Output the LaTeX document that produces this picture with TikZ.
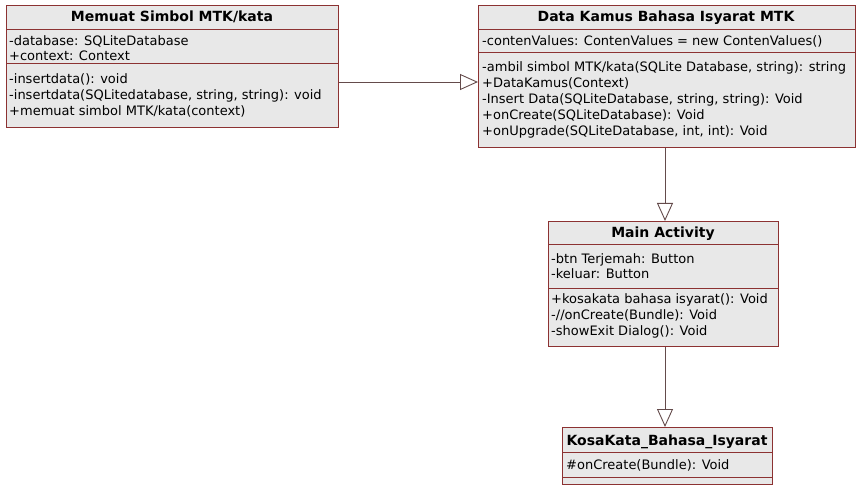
\documentclass[tikz,border=0pt]{standalone}
\usepackage{fontspec}
\setmainfont{DejaVu Sans}
\usetikzlibrary{arrows.meta}
\definecolor{boxfill}{RGB}{232,232,232}
\definecolor{boxline}{RGB}{140,50,50}
\definecolor{conn}{RGB}{100,75,75}
\tikzset{
  cls/.style={draw=boxline, fill=boxfill, line width=0.9pt, anchor=north west, inner sep=0pt},
  sep/.style={draw=boxline, line width=0.9pt},
  ttl/.style={font=\fontsize{14}{16}\selectfont\bfseries, inner sep=0pt, anchor=base},
  txt/.style={font=\fontsize{13}{16}\selectfont, anchor=base west, inner sep=0pt},
  gen/.style={draw=conn, line width=0.9pt, -{Triangle[open, length=18pt, width=16pt, fill=white]}}
}
\begin{document}
\begin{tikzpicture}[x=1pt,y=-1pt]
\useasboundingbox (0,0) rectangle (857,489);
% Class 1
\node[cls, minimum width=332pt, minimum height=122pt] (c1) at (6,5) {};
\draw[sep] (6,29) -- (338,29);
\draw[sep] (6,63) -- (338,63);
\node[ttl] (c1t) at (172,22) {Memuat Simbol MTK/kata};
\node[txt] (c1a1) at (9,46) {-database: SQLiteDatabase};
\node[txt] (c1a2) at (9,61) {+context: Context};
\node[txt] (c1m1) at (9,84) {-insertdata(): void};
\node[txt] (c1m2) at (9,100) {-insertdata(SQLitedatabase, string, string): void};
\node[txt] (c1m3) at (9,116) {+memuat simbol MTK/kata(context)};
% Class 2
\node[cls, minimum width=377pt, minimum height=142pt] (c2) at (478,5) {};
\draw[sep] (478,29) -- (855,29);
\draw[sep] (478,52) -- (855,52);
\node[ttl] (c2t) at (666,22) {Data Kamus Bahasa Isyarat MTK};
\node[txt] (c2a1) at (482,45.5) {-contenValues: ContenValues = new ContenValues()};
\node[txt] (c2m1) at (482,72) {-ambil simbol MTK/kata(SQLite Database, string): string};
\node[txt] (c2m2) at (482,88) {+DataKamus(Context)};
\node[txt] (c2m3) at (482,104) {-Insert Data(SQLiteDatabase, string, string): Void};
\node[txt] (c2m4) at (482,120) {+onCreate(SQLiteDatabase): Void};
\node[txt] (c2m5) at (482,136) {+onUpgrade(SQLiteDatabase, int, int): Void};
% Class 3
\node[cls, minimum width=230pt, minimum height=125pt] (c3) at (548,221) {};
\draw[sep] (548,244) -- (778,244);
\draw[sep] (548,288) -- (778,288);
\node[ttl] (c3t) at (663,237.5) {Main Activity};
\node[txt] (c3a1) at (551,263) {-btn Terjemah: Button};
\node[txt] (c3a2) at (551,278.5) {-keluar: Button};
\node[txt] (c3m1) at (551,303) {+kosakata bahasa isyarat(): Void};
\node[txt] (c3m2) at (551,319) {-//onCreate(Bundle): Void};
\node[txt] (c3m3) at (551,335) {-showExit Dialog(): Void};
% Class 4
\node[cls, minimum width=210pt, minimum height=57pt] (c4) at (562,427) {};
\draw[sep] (562,452) -- (772,452);
\draw[sep] (562,477) -- (772,477);
\node[ttl] (c4t) at (667,445) {KosaKata\_Bahasa\_Isyarat};
\node[txt] (c4a1) at (566,469.5) {\#onCreate(Bundle): Void};
% Connectors
\draw[gen] (c1.east |- 0,82) -- (c2.west |- 0,82);
\draw[gen] (c2.south -| 665,0) -- (c3.north -| 665,0);
\draw[gen] (c3.south -| 665,0) -- (c4.north -| 665,0);
\end{tikzpicture}
\end{document}
